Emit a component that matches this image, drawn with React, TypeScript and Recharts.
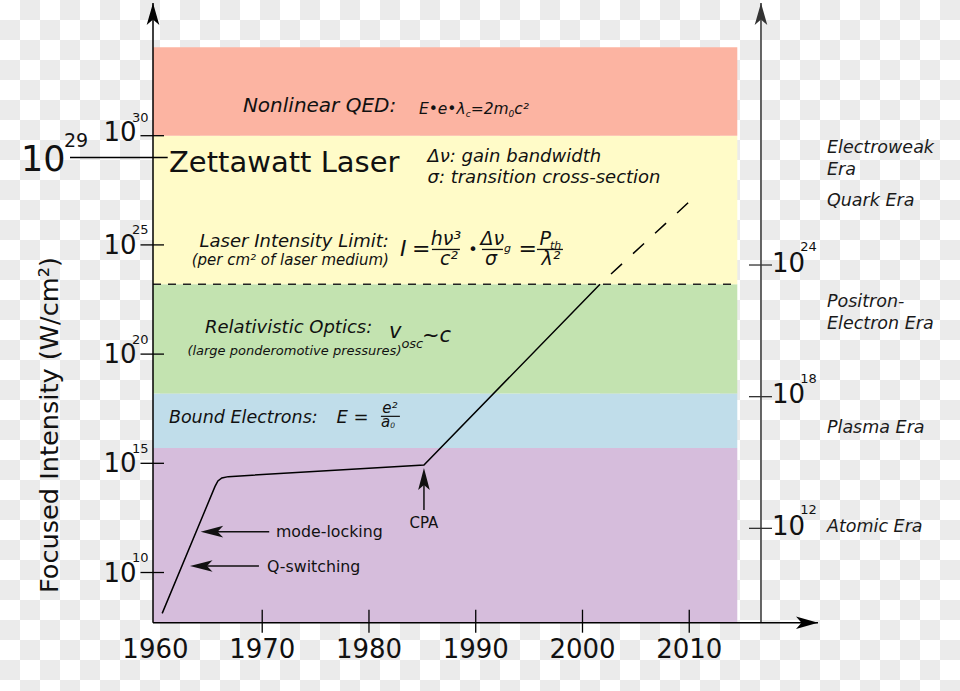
import React from 'react';
import { ComposedChart, Line, XAxis, YAxis, ReferenceArea, ReferenceLine, ReferenceDot } from 'recharts';

// ---------------- data ----------------
const yearTicks = [1960, 1970, 1980, 1990, 2000, 2010];
const intensityExpTicks = [10, 15, 20, 25, 30]; // log10 (W/cm²), left axis
const eraExpTicks = [12, 18, 24]; // log10, right axis

// history of focused laser intensity: year, log10(W/cm²)
const trendYears = [1960.63, 1965.57, 1965.85, 1966.22, 1966.82, 1985.15, 2001.64];
const trendLogIntensity = [8.13, 13.93, 14.19, 14.33, 14.39, 14.92, 23.2];
// projection (dashed)
const projectionYears = [2001.64, 2010.07];
const projectionLogIntensity = [23.2, 27.01];

// physical regimes (log10 bounds)
const regimeLow = [7.7, 15.7, 18.2, 23.2, 30];
const regimeHigh = [15.7, 18.2, 23.2, 30, 34.05];
const regimeColors = ['#d6bddc', '#c0ddea', '#c3e3b0', '#fffbc8', '#fcb4a2'];

// eras of the universe (right axis, log10)
const eraNames = [['Electroweak', 'Era'], ['Quark Era'], ['Positron-', 'Electron Era'], ['Plasma Era'], ['Atomic Era']];
const eraExp = [29.12, 26.69, 22.1, 16.33, 11.84];

const zettawattExp = 29;
const laserLimitExp = 23.2;

// ---------------- layout constants ----------------
const X_MIN = 1959.77;
const X_MAX = 2022.06;
const BAND_END = 2014.5;
const RIGHT_AXIS = 2016.72;
const Y_MIN = 7.702;
const Y_MAX = 36.076;
const YR_MIN = 7.7;
const YR_MAX = 35.94;

const FONT = "'DejaVu Sans', Verdana, sans-serif";
const INK = '#111';

const trendData = trendYears.map((year, i) => ({ year, logI: trendLogIntensity[i] }));
const projectionData = projectionYears.map((year, i) => ({ year, logI: projectionLogIntensity[i] }));

const T = ({ x, y, size, italic = false, anchor = 'start', fill = INK, children }: any) => (
  <text x={x} y={y} fontSize={size} fontStyle={italic ? 'italic' : 'normal'} textAnchor={anchor} fill={fill} fontFamily={FONT}>
    {children}
  </text>
);

const Arrow = ({ x, y, dir, len = 22, half = 6.3, notch = 16.5, fill = '#000' }: any) => {
  let pts: number[][] = [];
  if (dir === 'up') pts = [[x, y], [x - half, y + len], [x, y + notch], [x + half, y + len]];
  if (dir === 'right') pts = [[x, y], [x - len, y - half], [x - notch, y], [x - len, y + half]];
  if (dir === 'left') pts = [[x, y], [x + len, y - half], [x + notch, y], [x + len, y + half]];
  return <polygon points={pts.map((p) => p.join(',')).join(' ')} fill={fill} />;
};

const XTick = (p: any) => {
  const { x, y, payload } = p;
  return (
    <g>
      {payload.value !== 1960 && <line x1={x} x2={x} y1={y - 13} y2={y + 10} stroke="#000" strokeWidth={1.3} />}
      <T x={x} y={y + 35.5} size={26} anchor="middle">{payload.value}</T>
    </g>
  );
};

const YTick = (p: any) => {
  const { x, y, payload } = p;
  const dy = payload.value === 30 ? -3.5 : 0;
  return (
    <g>
      <line x1={x - 12.5} x2={x + 11} y1={y} y2={y} stroke="#000" strokeWidth={1.3} />
      <T x={x - 16.4} y={y + 9 + dy} size={26} anchor="end">10</T>
      <T x={x - 21} y={y - 10.5 + dy} size={13}>{payload.value}</T>
    </g>
  );
};

const rightTickShape = (exp: number) => (p: any) => {
  const { cx, cy } = p;
  return (
    <g>
      <line x1={cx - 12} x2={cx + 11} y1={cy} y2={cy} stroke="#333" strokeWidth={1.3} />
      <T x={cx + 11} y={cy + 6.5} size={26}>10</T>
      <T x={cx + 39.3} y={cy - 14} size={13}>{exp}</T>
    </g>
  );
};

const eraShape = (lines: string[]) => (p: any) => {
  const { cx, cy } = p;
  return (
    <g>
      {lines.map((s, i) => (
        <T key={i} x={cx + 66} y={cy + i * 22} size={17.5} italic fill="#1a1a1a">{s}</T>
      ))}
    </g>
  );
};

const axisArrow = (dir: string, fill = '#000') => (p: any) => <Arrow x={p.cx} y={p.cy} dir={dir} fill={fill} />;

const YTitle = (p: any) => {
  const { cx, cy } = p;
  const x = cx - 95;
  return (
    <text x={x} y={cy} transform={`rotate(-90, ${x}, ${cy})`} fontSize={25.6} textAnchor="middle" fill={INK} fontFamily={FONT}>
      Focused Intensity (W/cm²)
    </text>
  );
};

const Zettawatt = (p: any) => {
  const { cx, cy } = p;
  return (
    <g>
      <line x1={cx - 83} x2={cx + 14.7} y1={cy} y2={cy} stroke="#000" strokeWidth={1.4} />
      <T x={cx - 132} y={cy + 13.2} size={35}>10</T>
      <T x={cx - 89} y={cy - 10.8} size={19}>{zettawattExp}</T>
      <T x={cx + 16} y={cy + 14.2} size={29}>Zettawatt Laser</T>
    </g>
  );
};

const Qed = (p: any) => {
  const { cx, cy } = p;
  return (
    <g>
      <T x={cx} y={cy} size={20} italic>Nonlinear QED:</T>
      <text x={cx + 176} y={cy + 2} fontSize={15.5} fontStyle="italic" fill={INK} fontFamily={FONT}>
        E•e•λ<tspan fontSize={9} dy={3}>c</tspan>
        <tspan dy={-3}>=2m</tspan>
        <tspan fontSize={9} dy={3}>0</tspan>
        <tspan dy={-3}>c²</tspan>
      </text>
    </g>
  );
};

const Gain = (p: any) => {
  const { cx, cy } = p;
  return (
    <g>
      <T x={cx} y={cy} size={18} italic>Δν: gain bandwidth</T>
      <T x={cx} y={cy + 21.6} size={18} italic>σ: transition cross-section</T>
    </g>
  );
};

const LaserLimit = (p: any) => {
  const { cx, cy } = p;
  const ox = cx + 11;
  const oy = cy + 9.3;
  const bar = (a: number, b: number) => (
    <line x1={ox + a} x2={ox + b} y1={oy - 6.5} y2={oy - 6.5} stroke={INK} strokeWidth={1.3} />
  );
  return (
    <g>
      <T x={cx} y={cy} size={18} italic anchor="end">Laser Intensity Limit:</T>
      <T x={cx} y={cy + 18.3} size={15} italic anchor="end">(per cm² of laser medium)</T>
      <T x={ox} y={oy} size={22} italic>I</T>
      <T x={ox + 12} y={oy} size={22}>=</T>
      <T x={ox + 46} y={oy - 11} size={19} italic anchor="middle">hν³</T>
      {bar(32, 60)}
      <T x={ox + 49} y={oy + 9} size={19} italic anchor="middle">c²</T>
      <T x={ox + 73} y={oy - 1} size={16} anchor="middle">•</T>
      <T x={ox + 92.5} y={oy - 11} size={19} italic anchor="middle">Δν</T>
      <T x={ox + 104} y={oy - 4} size={11} italic>g</T>
      {bar(82, 103)}
      <T x={ox + 91} y={oy + 9} size={19} italic anchor="middle">σ</T>
      <T x={ox + 118.5} y={oy} size={22}>=</T>
      <T x={ox + 139.5} y={oy - 11} size={19} italic>P</T>
      <T x={ox + 150} y={oy - 7} size={11} italic>th</T>
      {bar(137, 163)}
      <T x={ox + 151} y={oy + 9} size={19} italic anchor="middle">λ²</T>
    </g>
  );
};

const Relativistic = (p: any) => {
  const { cx, cy } = p;
  return (
    <g>
      <T x={cx} y={cy} size={18} italic>Relativistic Optics:</T>
      <T x={cx - 17.5} y={cy + 21.7} size={13} italic>(large ponderomotive pressures)</T>
      <T x={cx + 184} y={cy + 5} size={21} italic>v</T>
      <T x={cx + 196.5} y={cy + 15} size={13} italic>osc</T>
      <T x={cx + 217} y={cy + 8.4} size={21} italic>~c</T>
    </g>
  );
};

const Bound = (p: any) => {
  const { cx, cy } = p;
  return (
    <g>
      <T x={cx} y={cy} size={17.5} italic>Bound Electrons:</T>
      <T x={cx + 167.5} y={cy} size={18} italic>E =</T>
      <T x={cx + 221} y={cy - 10} size={15} italic anchor="middle">e²</T>
      <line x1={cx + 212} x2={cx + 231} y1={cy - 7} y2={cy - 7} stroke={INK} strokeWidth={1.2} />
      <T x={cx + 212} y={cy + 3.4} size={15} italic>a</T>
      <T x={cx + 221.3} y={cy + 5} size={7.5} italic>0</T>
    </g>
  );
};

const pointer = (label: string, shaft: number, textDx: number, textDy: number) => (p: any) => {
  const { cx, cy } = p;
  return (
    <g>
      <Arrow x={cx} y={cy} dir="left" len={22.6} half={5.8} notch={17} fill={INK} />
      <line x1={cx + 15} x2={cx + shaft} y1={cy} y2={cy} stroke={INK} strokeWidth={1.5} />
      <T x={cx + textDx} y={cy + textDy} size={15.8}>{label}</T>
    </g>
  );
};

const Cpa = (p: any) => {
  const { cx, cy } = p;
  return (
    <g>
      <Arrow x={cx} y={cy} dir="up" len={22} half={5.8} notch={17} fill={INK} />
      <line x1={cx} x2={cx} y1={cy + 15} y2={cy + 42} stroke={INK} strokeWidth={1.5} />
      <T x={cx} y={cy + 60.3} size={15} anchor="middle">CPA</T>
    </g>
  );
};

export default function App() {
  return (
    <div
      style={{
        position: 'absolute',
        left: 0,
        top: 0,
        width: 960,
        height: 691,
        backgroundColor: '#ffffff',
        backgroundImage: 'conic-gradient(#ebebeb 25%, #ffffff 0 50%, #ebebeb 0 75%, #ffffff 0)',
        backgroundSize: '40px 40px',
        fontFamily: FONT,
      }}
    >
      <ComposedChart width={960} height={691} margin={{ top: 3, right: 142, bottom: 38.3, left: 93 }}>
        {regimeLow.map((lo, i) => (
          <ReferenceArea
            key={i}
            x1={X_MIN}
            x2={BAND_END}
            y1={lo}
            y2={regimeHigh[i]}
            fill={regimeColors[i]}
            fillOpacity={1}
            stroke="none"
            ifOverflow="visible"
          />
        ))}
        <ReferenceLine
          segment={[
            { x: X_MIN, y: laserLimitExp },
            { x: BAND_END, y: laserLimitExp },
          ]}
          stroke="#222"
          strokeWidth={1.5}
          strokeDasharray="8 7"
          ifOverflow="visible"
        />
        <ReferenceLine x={RIGHT_AXIS} stroke="#333" strokeWidth={1.5} ifOverflow="visible" />
        <XAxis
          type="number"
          dataKey="year"
          domain={[X_MIN, X_MAX]}
          allowDataOverflow
          ticks={yearTicks}
          interval={0}
          height={30}
          tickSize={0}
          tickMargin={0}
          tickLine={false}
          tick={(p: any) => <XTick {...p} />}
          axisLine={{ stroke: '#000', strokeWidth: 1.5 }}
        />
        <YAxis
          type="number"
          domain={[Y_MIN, Y_MAX]}
          allowDataOverflow
          ticks={intensityExpTicks}
          interval={0}
          width={60}
          tickSize={0}
          tickMargin={0}
          tickLine={false}
          tick={(p: any) => <YTick {...p} />}
          axisLine={{ stroke: '#000', strokeWidth: 1.5 }}
        />
        <YAxis yAxisId="r" orientation="right" type="number" domain={[YR_MIN, YR_MAX]} allowDataOverflow hide />
        <Line
          data={trendData}
          dataKey="logI"
          type="linear"
          stroke="#000"
          strokeWidth={1.5}
          dot={false}
          activeDot={false}
          isAnimationActive={false}
        />
        <Line
          data={projectionData}
          dataKey="logI"
          type="linear"
          stroke="#000"
          strokeWidth={1.5}
          strokeDasharray="15 15"
          strokeDashoffset={15}
          dot={false}
          activeDot={false}
          isAnimationActive={false}
        />
        <ReferenceDot x={X_MIN} y={Y_MAX} ifOverflow="visible" shape={axisArrow('up')} />
        <ReferenceDot x={X_MAX} y={Y_MIN} ifOverflow="visible" shape={axisArrow('right')} />
        <ReferenceDot x={RIGHT_AXIS} y={Y_MAX} ifOverflow="visible" shape={axisArrow('up', '#333')} />
        {eraExpTicks.map((e) => (
          <ReferenceDot key={'rt' + e} x={RIGHT_AXIS} y={e} yAxisId="r" ifOverflow="visible" shape={rightTickShape(e)} />
        ))}
        {eraNames.map((lines, i) => (
          <ReferenceDot key={'era' + i} x={RIGHT_AXIS} y={eraExp[i]} yAxisId="r" ifOverflow="visible" shape={eraShape(lines)} />
        ))}
        <ReferenceDot x={X_MIN} y={16.75} ifOverflow="visible" shape={YTitle} />
        <ReferenceDot x={X_MIN} y={zettawattExp} ifOverflow="visible" shape={Zettawatt} />
        <ReferenceDot x={1968.19} y={31.1} ifOverflow="visible" shape={Qed} />
        <ReferenceDot x={1985.48} y={28.81} ifOverflow="visible" shape={Gain} />
        <ReferenceDot x={1981.87} y={24.92} ifOverflow="visible" shape={LaserLimit} />
        <ReferenceDot x={1964.63} y={20.95} ifOverflow="visible" shape={Relativistic} />
        <ReferenceDot x={1961.26} y={16.83} ifOverflow="visible" shape={Bound} />
        <ReferenceDot x={1964.23} y={11.87} ifOverflow="visible" shape={pointer('mode-locking', 68.6, 75.3, 5)} />
        <ReferenceDot x={1963.23} y={10.3} ifOverflow="visible" shape={pointer('Q-switching', 69, 77, 5.7)} />
        <ReferenceDot x={1985.15} y={14.78} ifOverflow="visible" shape={Cpa} />
      </ComposedChart>
    </div>
  );
}
